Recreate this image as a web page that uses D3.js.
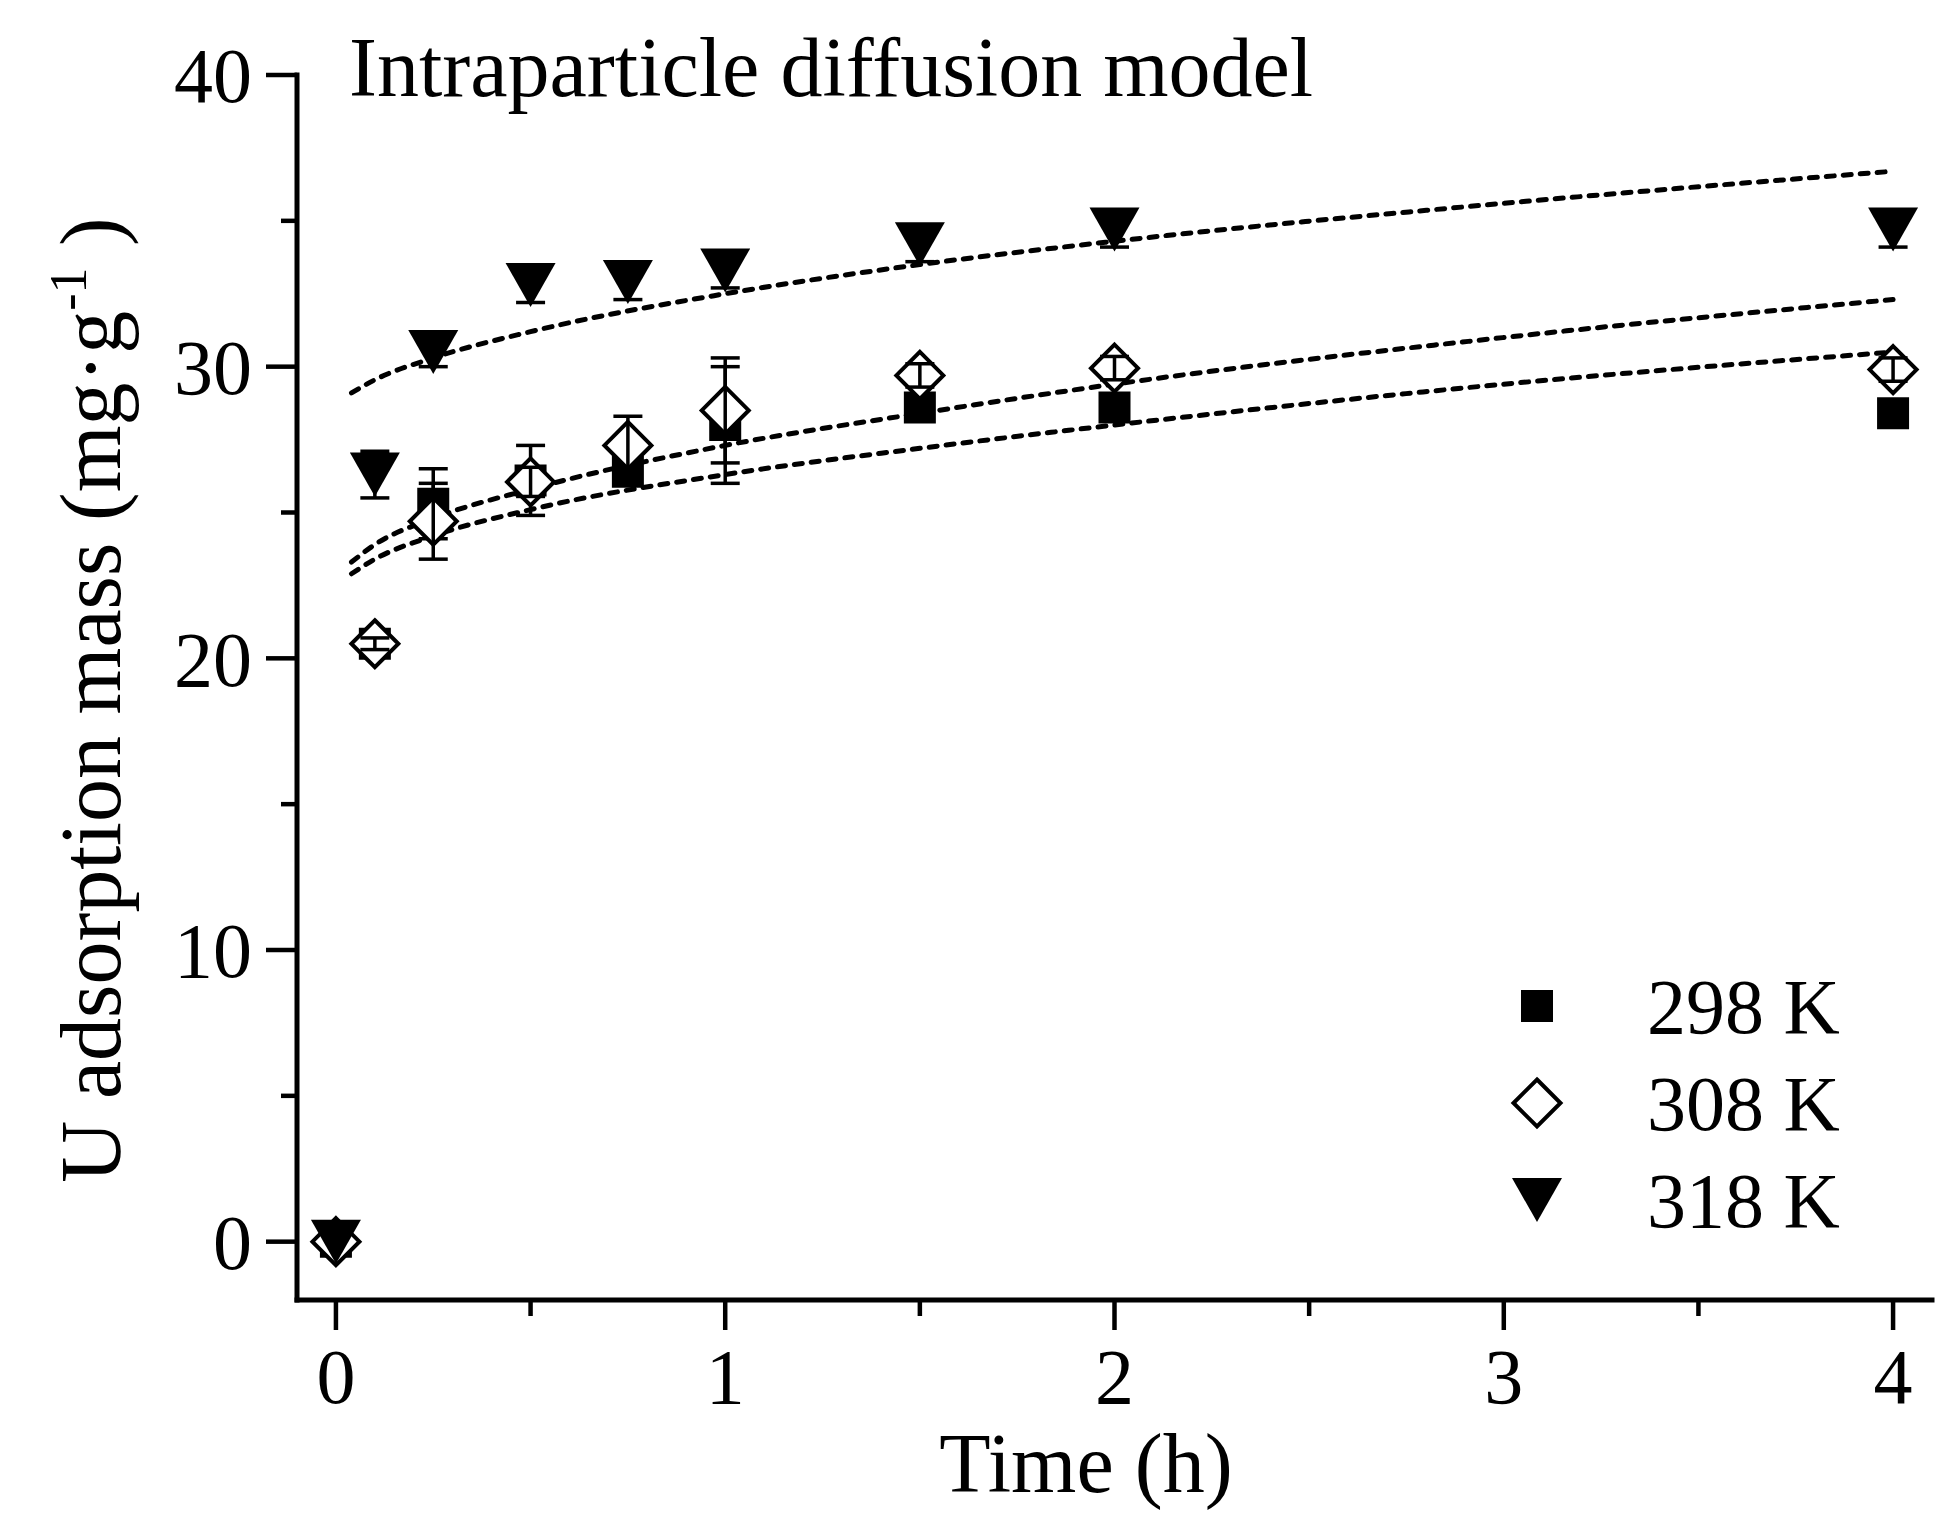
<!DOCTYPE html>
<html>
<head>
<meta charset="utf-8">
<script src="https://cdn.jsdelivr.net/npm/d3@7"></script>
<style>
  html, body { margin: 0; padding: 0; background: #fff; }
  svg { display: block; }
  text { font-family: "Liberation Serif", "Times New Roman", serif; fill: #000; }
</style>
</head>
<body>
<svg id="chart" width="1957" height="1521"></svg>
<script>
// ---- data ----
const times = [0, 0.1, 0.25, 0.5, 0.75, 1, 1.5, 2, 4];
const q298 = [0, 20.5, 25.3, 26.1, 26.4, 28.0, 28.6, 28.6, 28.4];
const err298 = [0, 0.2, 1.2, 1.2, 0.3, 2.0, 0.3, 0.3, 0.3];
const q308 = [0, 20.5, 24.7, 26.05, 27.3, 28.5, 29.7, 29.95, 29.9];
const err308 = [0, 0.2, 1.3, 0.5, 1.0, 1.8, 0.4, 0.4, 0.4];
const q318 = [0, 26.3, 30.5, 32.8, 32.9, 33.3, 34.2, 34.7, 34.7];
const err318 = [0, 0.8, 0.5, 0.6, 0.6, 0.6, 0.6, 0.6, 0.6];

const fitTimes = [0.04, 0.1, 0.25, 0.5, 1, 1.5, 2, 3, 4];
const fit298 = [22.9, 23.4, 24.2, 25.1, 26.3, 27.2, 28.0, 29.4, 30.5];
const fit308 = [23.3, 23.9, 24.8, 25.8, 27.3, 28.4, 29.4, 31.0, 32.3];
const fit318 = [29.1, 29.55, 30.3, 31.2, 32.5, 33.5, 34.3, 35.6, 36.7];

const seriesNames = ["298 K", "308 K", "318 K"];
const xTicks = [0, 1, 2, 3, 4];
const xMinorTicks = [0.5, 1.5, 2.5, 3.5];
const yTicks = [0, 10, 20, 30, 40];
const yMinorTicks = [5, 15, 25, 35];
const titleText = "Intraparticle diffusion model";
const xLabel = "Time (h)";

// ---- layout ----
const svg = d3.select("#chart");
const x = d3.scaleLinear().domain([-0.1, 4.1]).range([297, 1932]);
const y = d3.scaleLinear().domain([-2, 40]).range([1300, 75]);

const series = [
  { name: seriesNames[0], q: q298, e: err298, fit: fit298, shape: "square" },
  { name: seriesNames[1], q: q308, e: err308, fit: fit308, shape: "diamond" },
  { name: seriesNames[2], q: q318, e: err318, fit: fit318, shape: "triangle" }
];

function markerPath(shape) {
  if (shape === "square") { const s = 16; return `M${-s},${-s}H${s}V${s}H${-s}Z`; }
  if (shape === "diamond") { const s = 23.5; return `M0,${-s}L${s},0L0,${s}L${-s},0Z`; }
  const w = 25, h = 22; return `M${-w},${-h}L${w},${-h}L0,${h}Z`;
}
function markerStyle(sel, shape) {
  if (shape === "diamond") sel.attr("fill", "#fff").attr("stroke", "#000").attr("stroke-width", 4).attr("stroke-linejoin", "miter");
  else sel.attr("fill", "#000").attr("stroke", "none");
}

// ---- fit curves ----
const line = d3.line().x(d => x(d[0])).y(d => y(d[1])).curve(d3.curveMonotoneX);
series.forEach(s => {
  svg.append("path")
    .attr("d", line(fitTimes.map((t, i) => [t, s.fit[i]])))
    .attr("fill", "none").attr("stroke", "#000").attr("stroke-width", 5)
    .attr("stroke-dasharray", "8,9").attr("stroke-linecap", "round");
});

// ---- markers + error bars ----
const capW = 14.5;
series.forEach(s => {
  const g = svg.append("g");
  times.forEach((t, i) => {
    const px = x(t), py = y(s.q[i]);
    g.append("path").attr("d", markerPath(s.shape)).attr("transform", `translate(${px},${py})`)
      .call(markerStyle, s.shape);
    if (s.e[i] > 0) {
      const y1 = y(s.q[i] + s.e[i]), y2 = y(s.q[i] - s.e[i]);
      g.append("line").attr("x1", px).attr("x2", px).attr("y1", y1).attr("y2", y2)
        .attr("stroke", "#000").attr("stroke-width", 3.5);
      [y1, y2].forEach(yy => g.append("line").attr("x1", px - capW).attr("x2", px + capW)
        .attr("y1", yy).attr("y2", yy).attr("stroke", "#000").attr("stroke-width", 3.5));
    }
  });
});

// ---- axes ----
const axisG = svg.append("g");
axisG.append("line").attr("x1", 297).attr("x2", 297).attr("y1", y(40)).attr("y2", y(-2))
  .attr("stroke", "#000").attr("stroke-width", 5).attr("stroke-linecap", "square");
axisG.append("line").attr("x1", x(-0.1)).attr("x2", x(4.1)).attr("y1", 1300).attr("y2", 1300)
  .attr("stroke", "#000").attr("stroke-width", 5).attr("stroke-linecap", "square");

yTicks.forEach(v => {
  axisG.append("line").attr("x1", 297).attr("x2", 266).attr("y1", y(v)).attr("y2", y(v))
    .attr("stroke", "#000").attr("stroke-width", 4.5);
  axisG.append("text").attr("x", 252).attr("y", y(v)).attr("dy", "0.35em")
    .attr("text-anchor", "end").attr("font-size", 78).text(v);
});
yMinorTicks.forEach(v => {
  axisG.append("line").attr("x1", 297).attr("x2", 281).attr("y1", y(v)).attr("y2", y(v))
    .attr("stroke", "#000").attr("stroke-width", 4.5);
});
xTicks.forEach(v => {
  axisG.append("line").attr("x1", x(v)).attr("x2", x(v)).attr("y1", 1300).attr("y2", 1330)
    .attr("stroke", "#000").attr("stroke-width", 4.5);
  axisG.append("text").attr("x", x(v)).attr("y", 1403)
    .attr("text-anchor", "middle").attr("font-size", 78).text(v);
});
xMinorTicks.forEach(v => {
  axisG.append("line").attr("x1", x(v)).attr("x2", x(v)).attr("y1", 1300).attr("y2", 1316)
    .attr("stroke", "#000").attr("stroke-width", 4.5);
});

// axis titles
svg.append("text").attr("x", 1086).attr("y", 1492).attr("text-anchor", "middle")
  .attr("font-size", 84).text(xLabel);

const yl = svg.append("text").attr("transform", "translate(120,700) rotate(-90)")
  .attr("text-anchor", "middle").attr("font-size", 86);
yl.append("tspan").text("U adsorption mass (mg·g");
yl.append("tspan").attr("font-size", 52).attr("dy", -34).text("-1");
yl.append("tspan").attr("dy", 34).text(" )");

// title
svg.append("text").attr("x", 349).attr("y", 96).attr("font-size", 84).text(titleText);

// ---- legend ----
const legendRows = [1006, 1103, 1200];
series.forEach((s, i) => {
  svg.append("path").attr("d", markerPath(s.shape)).attr("transform", `translate(1537,${legendRows[i]})`)
    .call(markerStyle, s.shape);
  svg.append("text").attr("x", 1647).attr("y", legendRows[i] + 27).attr("font-size", 78).text(s.name);
});
</script>
</body>
</html>
